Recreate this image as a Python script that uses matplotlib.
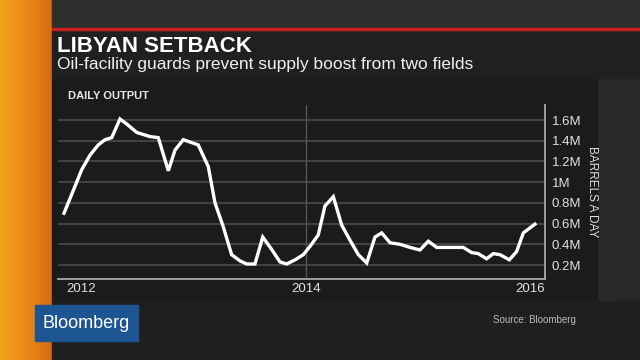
import numpy as np
import matplotlib
matplotlib.use('Agg')
import matplotlib.pyplot as plt
from matplotlib.patches import Rectangle

# monthly-ish readings of Libyan daily output (million barrels/day)
years = [2011.98, 2012.058, 2012.128, 2012.197, 2012.267, 2012.323, 2012.379, 2012.448,
         2012.506, 2012.588, 2012.699, 2012.768, 2012.852, 2012.908, 2012.977, 2013.102,
         2013.186, 2013.242, 2013.311, 2013.381, 2013.451, 2013.507, 2013.576, 2013.641,
         2013.716, 2013.785, 2013.841, 2013.911, 2013.980, 2014.036, 2014.105, 2014.161,
         2014.231, 2014.301, 2014.370, 2014.440, 2014.510, 2014.579, 2014.635, 2014.705,
         2014.788, 2014.872, 2014.955, 2015.025, 2015.095, 2015.178, 2015.248, 2015.317,
         2015.387, 2015.442, 2015.512, 2015.568, 2015.624, 2015.702, 2015.763, 2015.819,
         2015.916]
output = [0.70, 0.92, 1.12, 1.26, 1.36, 1.41, 1.43, 1.61,
          1.56, 1.48, 1.44, 1.43, 1.11, 1.31, 1.41, 1.36,
          1.15, 0.80, 0.57, 0.30, 0.24, 0.21, 0.21, 0.47,
          0.35, 0.23, 0.21, 0.25, 0.30, 0.38, 0.49, 0.77,
          0.86, 0.585, 0.44, 0.30, 0.22, 0.47, 0.51, 0.415,
          0.40, 0.37, 0.345, 0.43, 0.37, 0.37, 0.37, 0.37,
          0.32, 0.31, 0.26, 0.31, 0.30, 0.25, 0.33, 0.51,
          0.595]

y_ticks = [0.2, 0.4, 0.6, 0.8, 1.0, 1.2, 1.4, 1.6]
y_labels = ['0.2M', '0.4M', '0.6M', '0.8M', '1M', '1.2M', '1.4M', '1.6M']
x_ticks = [2012, 2014, 2016]

plt.rcParams['font.family'] = ['Liberation Sans', 'DejaVu Sans']

fig = plt.figure(figsize=(6.4, 3.6), dpi=100)
fig.patch.set_facecolor('#262626')

# background decoration
bg = fig.add_axes([0, 0, 1, 1], zorder=-10)
bg.set_xlim(0, 640)
bg.set_ylim(360, 0)
bg.axis('off')
grad = np.linspace(0, 1, 256).reshape(1, -1)
bg.imshow(grad, extent=(52, 640, 360, 0),
          cmap=matplotlib.colors.LinearSegmentedColormap.from_list('g', ['#262626', '#2c2c2c', '#303030', '#282828']),
          aspect='auto', zorder=0)
bg.imshow(grad, extent=(0, 52, 360, 0),
          cmap=matplotlib.colors.LinearSegmentedColormap.from_list('o', ['#f2a51c', '#eb8a1a', '#d96a10']),
          aspect='auto', zorder=1)
bg.add_patch(Rectangle((52, 0), 588, 28, color='#2e2e2e', zorder=2))
bg.add_patch(Rectangle((52, 27.5), 588, 2.5, color='#c8201e', zorder=3))
bg.add_patch(Rectangle((52, 30), 588, 48, color='#202022', zorder=2))
bg.add_patch(Rectangle((52, 78.5), 545, 222, color='#1b1b1d', zorder=2))
bg.add_patch(Rectangle((52, 300.5), 588, 60, color='#1f1f1f', zorder=2))
bg.add_patch(Rectangle((35, 305), 103, 36, color='#1d5593', zorder=4))

fig.text(57 / 640, 1 - 46 / 360, 'LIBYAN SETBACK', color='white', fontsize=16,
         fontweight='bold', va='center', ha='left')
fig.text(57 / 640, 1 - 65 / 360, 'Oil-facility guards prevent supply boost from two fields',
         color='#f0f0f0', fontsize=12.5, va='center', ha='left')
fig.text(68 / 640, 1 - 96 / 360, 'DAILY OUTPUT', color='#e8e8e8', fontsize=8,
         fontweight='bold', va='center', ha='left')
fig.text(86 / 640, 1 - 323 / 360, 'Bloomberg', color='white', fontsize=13,
         va='center', ha='center')
fig.text(576 / 640, 1 - 320 / 360, 'Source: Bloomberg', color='#bbbbbb', fontsize=7,
         va='center', ha='right')

ax = fig.add_axes([58 / 640, 1 - 279 / 360, 487 / 640, 174 / 360])
ax.set_facecolor('#1b1b1d')
ax.plot(years, output, color='white', linewidth=2.4, solid_joinstyle='miter', zorder=3)

ax.set_xlim(2011.93, 2016.0)
ax.set_ylim(0.065, 1.745)
ax.set_yticks(y_ticks)
ax.set_yticklabels(y_labels)
ax.yaxis.tick_right()
ax.yaxis.set_label_position('right')
ax.set_ylabel('BARRELS A DAY', rotation=-90, color='#e0e0e0', fontsize=8.5, labelpad=12)
for y in y_ticks:
    ax.axhline(y, color='#4a4a4c', linewidth=1.2, zorder=1)
ax.axvline(2014, color='#555557', linewidth=1, zorder=1)

ax.set_xticks(x_ticks)
ax.set_xticklabels([str(t) for t in x_ticks])
for lbl, ha in zip(ax.get_xticklabels(), ['left', 'center', 'right']):
    lbl.set_ha(ha)
ax.tick_params(axis='both', length=0, colors='#e0e0e0', labelsize=9.5)
ax.tick_params(axis='y', pad=5)
ax.tick_params(axis='x', pad=3)

for side in ['top', 'left']:
    ax.spines[side].set_visible(False)
for side in ['bottom', 'right']:
    ax.spines[side].set_color('#a8a8a8')
    ax.spines[side].set_linewidth(1.3)

fig.savefig('out.png', dpi=100, facecolor=fig.get_facecolor())
